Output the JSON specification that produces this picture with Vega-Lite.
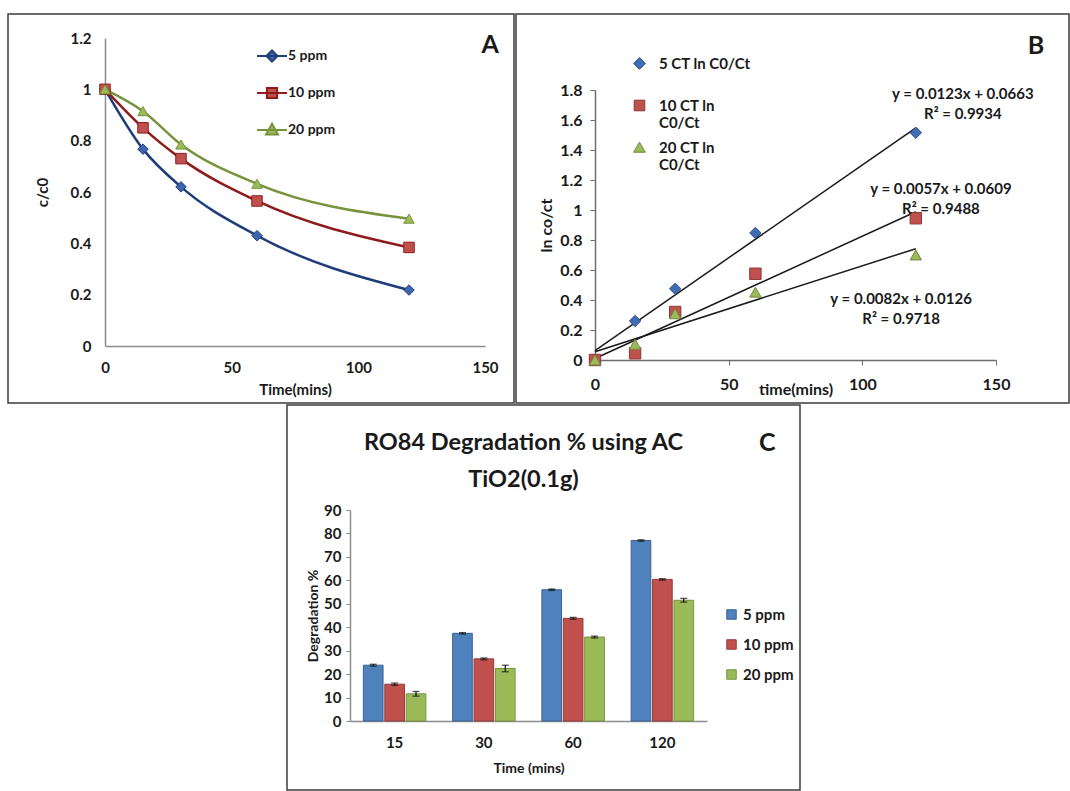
{
  "$schema": "https://vega.github.io/schema/vega-lite/v6.json",
  "padding": {"left": 7, "top": 13, "right": 0, "bottom": 0},
  "background": "white",
  "config": {
    "font": "Lato",
    "view": {"stroke": "#3d3d3d", "strokeWidth": 1.5},
    "axis": {"grid": false, "labelFont": "Lato", "titleFont": "Lato", "labelFontSize": 15, "titleFontSize": 15, "labelFontWeight": "bold", "titleFontWeight": "bold", "labelColor": "#1a1a1a", "titleColor": "#1a1a1a", "labelFlush": false, "labelOverlap": false, "domainColor": "#8c8c8c", "domainWidth": 1.5, "tickColor": "#8c8c8c"},
    "legend": {"labelFont": "Lato", "labelFontSize": 14, "labelFontWeight": "bold", "labelColor": "#1a1a1a", "padding": 0},
    "text": {"font": "Lato", "color": "#1a1a1a"},
    "title": {"font": "Lato", "color": "#1a1a1a"}
  },
  "datasets": {
    "A": [
      {"time": 0, "series": "5 ppm", "value": 1}, {"time": 15, "series": "5 ppm", "value": 0.767}, {"time": 30, "series": "5 ppm", "value": 0.62}, {"time": 60, "series": "5 ppm", "value": 0.43}, {"time": 120, "series": "5 ppm", "value": 0.218},
      {"time": 0, "series": "10 ppm", "value": 1}, {"time": 15, "series": "10 ppm", "value": 0.85}, {"time": 30, "series": "10 ppm", "value": 0.73}, {"time": 60, "series": "10 ppm", "value": 0.565}, {"time": 120, "series": "10 ppm", "value": 0.384},
      {"time": 0, "series": "20 ppm", "value": 1}, {"time": 15, "series": "20 ppm", "value": 0.915}, {"time": 30, "series": "20 ppm", "value": 0.785}, {"time": 60, "series": "20 ppm", "value": 0.632}, {"time": 120, "series": "20 ppm", "value": 0.496}
    ],
    "B": [
      {"time": 0, "series": "5 CT ln C0/Ct", "value": 0}, {"time": 15, "series": "5 CT ln C0/Ct", "value": 0.26}, {"time": 30, "series": "5 CT ln C0/Ct", "value": 0.475}, {"time": 60, "series": "5 CT ln C0/Ct", "value": 0.847}, {"time": 120, "series": "5 CT ln C0/Ct", "value": 1.515},
      {"time": 0, "series": "10 CT ln C0/Ct", "value": 0}, {"time": 15, "series": "10 CT ln C0/Ct", "value": 0.045}, {"time": 30, "series": "10 CT ln C0/Ct", "value": 0.32}, {"time": 60, "series": "10 CT ln C0/Ct", "value": 0.575}, {"time": 120, "series": "10 CT ln C0/Ct", "value": 0.945},
      {"time": 0, "series": "20 CT ln C0/Ct", "value": 0}, {"time": 15, "series": "20 CT ln C0/Ct", "value": 0.105}, {"time": 30, "series": "20 CT ln C0/Ct", "value": 0.308}, {"time": 60, "series": "20 CT ln C0/Ct", "value": 0.452}, {"time": 120, "series": "20 CT ln C0/Ct", "value": 0.7}
    ],
    "C": [
      {"time": "15", "series": "5 ppm", "value": 23.8, "lo": 23.4, "hi": 24.2},
      {"time": "15", "series": "10 ppm", "value": 15.7, "lo": 15.2, "hi": 16.2},
      {"time": "15", "series": "20 ppm", "value": 11.6, "lo": 10.6, "hi": 12.6},
      {"time": "30", "series": "5 ppm", "value": 37.4, "lo": 37.1, "hi": 37.7},
      {"time": "30", "series": "10 ppm", "value": 26.5, "lo": 26.1, "hi": 26.9},
      {"time": "30", "series": "20 ppm", "value": 22.4, "lo": 21.0, "hi": 23.8},
      {"time": "60", "series": "5 ppm", "value": 56.0, "lo": 55.7, "hi": 56.3},
      {"time": "60", "series": "10 ppm", "value": 43.8, "lo": 43.4, "hi": 44.2},
      {"time": "60", "series": "20 ppm", "value": 35.8, "lo": 35.4, "hi": 36.2},
      {"time": "120", "series": "5 ppm", "value": 77.0, "lo": 76.7, "hi": 77.3},
      {"time": "120", "series": "10 ppm", "value": 60.4, "lo": 60.1, "hi": 60.7},
      {"time": "120", "series": "20 ppm", "value": 51.5, "lo": 50.7, "hi": 52.3}
    ]
  },
  "spacing": 0,
  "resolve": {"scale": {"fill": "independent", "stroke": "independent", "shape": "independent"}, "legend": {"fill": "independent", "stroke": "independent", "shape": "independent"}},
  "vconcat": [
    {
      "spacing": 0,
      "resolve": {"scale": {"fill": "independent", "stroke": "independent", "shape": "independent"}, "legend": {"fill": "independent", "stroke": "independent", "shape": "independent"}},
      "hconcat": [
        {
          "width": 506, "height": 389,
          "data": {"name": "A"},
          "layer": [
            {
              "mark": {"type": "line", "interpolate": "monotone", "strokeWidth": 2.5},
              "encoding": {
                "x": {"field": "time", "type": "quantitative",
                  "scale": {"domain": [0, 150], "range": [97, 477], "nice": false, "zero": false},
                  "axis": {"values": [0, 50, 100, 150], "offset": -57, "ticks": false, "labelPadding": 14, "title": "Time(mins)", "titleY": 43, "titleBaseline": "middle", "format": "~f"}},
                "y": {"field": "value", "type": "quantitative",
                  "scale": {"domain": [0, 1.2], "range": [332, 24], "nice": false, "zero": false},
                  "axis": {"values": [0, 0.2, 0.4, 0.6, 0.8, 1, 1.2], "offset": -97, "ticks": false, "labelPadding": 14, "title": "c/c0", "titlePadding": 20, "format": "~f"}},
                "stroke": {"field": "series", "type": "nominal", "scale": {"domain": ["5 ppm", "10 ppm", "20 ppm"], "range": ["#1F3D7A", "#8E1C1C", "#77933C"]}, "legend": null}
              }
            },
            {
              "mark": {"type": "point", "filled": true, "size": 110, "strokeWidth": 1, "opacity": 1},
              "encoding": {
                "x": {"field": "time", "type": "quantitative"},
                "y": {"field": "value", "type": "quantitative"},
                "fill": {"field": "series", "type": "nominal", "scale": {"domain": ["5 ppm", "10 ppm", "20 ppm"], "range": ["#3C67B0", "#C0504D", "#9BBB59"]}, "legend": null},
                "stroke": {"field": "series", "type": "nominal", "scale": {"domain": ["5 ppm", "10 ppm", "20 ppm"], "range": ["#1F3D7A", "#8E1C1C", "#77933C"]}, "legend": null},
                "shape": {"field": "series", "type": "nominal", "scale": {"domain": ["5 ppm", "10 ppm", "20 ppm"], "range": ["diamond", "square", "triangle-up"]}, "legend": null}
              }
            },
            {
              "mark": {"type": "point", "filled": true, "opacity": 0},
              "encoding": {
                "x": {"field": "time", "type": "quantitative"},
                "y": {"field": "value", "type": "quantitative"},
                "fill": {"field": "series", "type": "nominal", "scale": {"domain": ["5 ppm", "10 ppm", "20 ppm"], "range": ["#3C67B0", "#C0504D", "#9BBB59"]},
                  "legend": {"orient": "none", "legendX": 248, "legendY": 26, "title": null, "symbolSize": 900, "symbolStrokeWidth": 2, "symbolFillColor": "#3C67B0", "symbolOpacity": 1, "rowPadding": 11, "labelOffset": 0}},
                "stroke": {"field": "series", "type": "nominal", "scale": {"domain": ["5 ppm", "10 ppm", "20 ppm"], "range": ["#1F3D7A", "#8E1C1C", "#77933C"]},
                  "legend": {"orient": "none", "legendX": 248, "legendY": 26, "title": null, "symbolSize": 900, "symbolStrokeWidth": 2, "symbolFillColor": "#3C67B0", "symbolOpacity": 1, "rowPadding": 11, "labelOffset": 0}},
                "shape": {"field": "series", "type": "nominal", "scale": {"domain": ["5 ppm", "10 ppm", "20 ppm"], "range": ["M-1,0H1M0,-0.37L0.37,0L0,0.37L-0.37,0Z", "M-1,0H1M-0.34,-0.34H0.34V0.34H-0.34Z", "M-1,0H1M0,-0.42L0.4,0.3H-0.4Z"]},
                  "legend": {"orient": "none", "legendX": 248, "legendY": 26, "title": null, "symbolSize": 900, "symbolStrokeWidth": 2, "symbolFillColor": "#3C67B0", "symbolOpacity": 1, "rowPadding": 11, "labelOffset": 0}}
              }
            },
            {
              "data": {"values": [{}]},
              "mark": {"type": "text", "text": "A", "fontSize": 25, "fontWeight": "bold", "align": "center", "baseline": "middle"},
              "encoding": {"x": {"datum": 152}, "y": {"datum": 1.173}}
            }
          ],
          "resolve": {"scale": {"fill": "independent", "stroke": "independent", "shape": "independent"}}
        },
        {
          "width": 553, "height": 389,
          "layer": [
            {
              "data": {"name": "B"},
              "transform": [{"regression": "value", "on": "time", "groupby": ["series"], "extent": [0, 120]}],
              "mark": {"type": "line", "color": "#1a1a1a", "strokeWidth": 1.5},
              "encoding": {
                "x": {"field": "time", "type": "quantitative",
                  "scale": {"domain": [0, 150], "range": [79, 480], "nice": false, "zero": false},
                  "axis": {"values": [0, 50, 100, 150], "offset": -43, "ticks": true, "tickSize": 5, "domainColor": "#6e6e6e", "tickColor": "#6e6e6e", "labelPadding": 11, "labelFontSize": 16, "titleFontSize": 16, "title": "time(mins)", "titleY": 29, "titleBaseline": "middle", "format": "~f"}},
                "y": {"field": "value", "type": "quantitative",
                  "scale": {"domain": [0, 1.8], "range": [346, 76], "nice": false, "zero": false},
                  "axis": {"values": [0, 0.2, 0.4, 0.6, 0.8, 1, 1.2, 1.4, 1.6, 1.8], "offset": -79, "ticks": true, "tickSize": 5, "domainColor": "#6e6e6e", "tickColor": "#6e6e6e", "labelPadding": 8, "labelFontSize": 16, "titleFontSize": 16, "title": "ln co/ct", "titlePadding": 5, "format": "~f"}},
                "detail": {"field": "series", "type": "nominal"}
              }
            },
            {
              "data": {"name": "B"},
              "mark": {"type": "point", "filled": true, "size": 130, "strokeWidth": 1, "opacity": 1},
              "encoding": {
                "x": {"field": "time", "type": "quantitative"},
                "y": {"field": "value", "type": "quantitative"},
                "fill": {"field": "series", "type": "nominal", "scale": {"domain": ["5 CT ln C0/Ct", "10 CT ln C0/Ct", "20 CT ln C0/Ct"], "range": ["#3F6EB6", "#C0504D", "#9BBB59"]}, "legend": null},
                "stroke": {"field": "series", "type": "nominal", "scale": {"domain": ["5 CT ln C0/Ct", "10 CT ln C0/Ct", "20 CT ln C0/Ct"], "range": ["#2B4E86", "#8C3836", "#71893F"]}, "legend": null},
                "shape": {"field": "series", "type": "nominal", "scale": {"domain": ["5 CT ln C0/Ct", "10 CT ln C0/Ct", "20 CT ln C0/Ct"], "range": ["diamond", "square", "triangle-up"]}, "legend": null}
              }
            },
            {
              "data": {"name": "B"},
              "mark": {"type": "point", "filled": true, "opacity": 0},
              "encoding": {
                "x": {"field": "time", "type": "quantitative"},
                "y": {"field": "value", "type": "quantitative"},
                "fill": {"field": "series", "type": "nominal", "scale": {"domain": ["5 CT ln C0/Ct", "10 CT ln C0/Ct", "20 CT ln C0/Ct"], "range": ["#3F6EB6", "#C0504D", "#9BBB59"]},
                  "legend": {"orient": "none", "legendX": 116, "legendY": 35, "title": null, "symbolSize": 125, "symbolStrokeWidth": 1, "symbolFillColor": "#3F6EB6", "symbolOpacity": 1, "labelFontSize": 15, "labelOffset": 12, "labelBaseline": "top", "gridAlign": "all", "rowPadding": 2, "labelExpr": "length(datum.label) > 13 ? [slice(datum.label, 0, 8), slice(datum.label, 9)] : datum.label"}},
                "stroke": {"field": "series", "type": "nominal", "scale": {"domain": ["5 CT ln C0/Ct", "10 CT ln C0/Ct", "20 CT ln C0/Ct"], "range": ["#2B4E86", "#8C3836", "#71893F"]},
                  "legend": {"orient": "none", "legendX": 116, "legendY": 35, "title": null, "symbolSize": 125, "symbolStrokeWidth": 1, "symbolFillColor": "#3F6EB6", "symbolOpacity": 1, "labelFontSize": 15, "labelOffset": 12, "labelBaseline": "top", "gridAlign": "all", "rowPadding": 2, "labelExpr": "length(datum.label) > 13 ? [slice(datum.label, 0, 8), slice(datum.label, 9)] : datum.label"}},
                "shape": {"field": "series", "type": "nominal", "scale": {"domain": ["5 CT ln C0/Ct", "10 CT ln C0/Ct", "20 CT ln C0/Ct"], "range": ["M0,0.2L1.05,1.25L0,2.3L-1.05,1.25Z", "M-0.95,0.3H0.95V2.2H-0.95Z", "M0,0.3L1.05,2.1H-1.05Z"]},
                  "legend": {"orient": "none", "legendX": 116, "legendY": 35, "title": null, "symbolSize": 125, "symbolStrokeWidth": 1, "symbolFillColor": "#3F6EB6", "symbolOpacity": 1, "labelFontSize": 15, "labelOffset": 12, "labelBaseline": "top", "gridAlign": "all", "rowPadding": 2, "labelExpr": "length(datum.label) > 13 ? [slice(datum.label, 0, 8), slice(datum.label, 9)] : datum.label"}}
              }
            },
            {
              "data": {"values": [{}]},
              "mark": {"type": "text", "text": ["y = 0.0123x + 0.0663", "R² = 0.9934"], "fontSize": 15, "fontWeight": "bold", "lineHeight": 20, "align": "center", "baseline": "middle"},
              "encoding": {"x": {"datum": 137.6}, "y": {"datum": 1.773}}
            },
            {
              "data": {"values": [{}]},
              "mark": {"type": "text", "text": ["y = 0.0057x + 0.0609", "R² = 0.9488"], "fontSize": 15, "fontWeight": "bold", "lineHeight": 20, "align": "center", "baseline": "middle"},
              "encoding": {"x": {"datum": 129.4}, "y": {"datum": 1.14}}
            },
            {
              "data": {"values": [{}]},
              "mark": {"type": "text", "text": ["y = 0.0082x + 0.0126", "R² = 0.9718"], "fontSize": 15, "fontWeight": "bold", "lineHeight": 20, "align": "center", "baseline": "middle"},
              "encoding": {"x": {"datum": 114.5}, "y": {"datum": 0.41}}
            },
            {
              "data": {"values": [{}]},
              "mark": {"type": "text", "text": "B", "fontSize": 25, "fontWeight": "bold", "align": "center", "baseline": "middle"},
              "encoding": {"x": {"datum": 165}, "y": {"datum": 2.093}}
            }
          ],
          "resolve": {"scale": {"fill": "independent", "stroke": "independent", "shape": "independent"}}
        }
      ]
    },
    {
      "spacing": 0,
      "resolve": {"scale": {"fill": "independent", "stroke": "independent", "shape": "independent"}, "legend": {"fill": "independent", "stroke": "independent", "shape": "independent"}},
      "hconcat": [
        {
          "width": 278, "height": 10,
          "data": {"values": []},
          "mark": "point",
          "view": {"stroke": null}
        },
        {
          "width": 513, "height": 385,
          "data": {"name": "C"},
          "title": {"text": ["RO84 Degradation % using AC", "TiO2(0.1g)"], "fontSize": 23.5, "fontWeight": "bold", "lineHeight": 37, "anchor": "middle", "frame": "group", "dx": -20, "offset": -86},
          "layer": [
            {
              "mark": {"type": "bar", "strokeWidth": 1},
              "encoding": {
                "x": {"field": "time", "type": "ordinal", "sort": ["15", "30", "60", "120"],
                  "scale": {"domain": ["15", "30", "60", "120"], "range": [63, 420], "paddingInner": 0.3, "paddingOuter": 0.15},
                  "axis": {"offset": -69, "ticks": false, "labelAngle": 0, "labelPadding": 14, "labelFontSize": 15, "titleFontSize": 14, "title": "Time (mins)", "titleY": 47, "titleBaseline": "middle"}},
                "xOffset": {"field": "series", "type": "nominal", "scale": {"domain": ["5 ppm", "10 ppm", "20 ppm"], "paddingInner": 0.08}},
                "y": {"field": "value", "type": "quantitative",
                  "scale": {"domain": [0, 90], "range": [316, 105], "nice": false, "zero": false},
                  "axis": {"values": [0, 10, 20, 30, 40, 50, 60, 70, 80, 90], "offset": -63, "ticks": true, "tickSize": 4, "labelPadding": 5, "labelFontSize": 15, "titleFontSize": 14, "title": "Degradation %", "titlePadding": 3, "format": "d"}},
                "fill": {"field": "series", "type": "nominal", "scale": {"domain": ["5 ppm", "10 ppm", "20 ppm"], "range": ["#4F81BD", "#C0504D", "#9BBB59"]},
                  "legend": {"orient": "none", "legendX": 437, "legendY": 202, "title": null, "symbolType": "square", "symbolSize": 90, "symbolStrokeWidth": 1, "labelFontSize": 15, "labelOffset": 4, "rowPadding": 14}},
                "stroke": {"field": "series", "type": "nominal", "scale": {"domain": ["5 ppm", "10 ppm", "20 ppm"], "range": ["#3B6494", "#963C3A", "#76923C"]},
                  "legend": {"orient": "none", "legendX": 437, "legendY": 202, "title": null, "symbolType": "square", "symbolSize": 90, "symbolStrokeWidth": 1, "labelFontSize": 15, "labelOffset": 4, "rowPadding": 14}}
              }
            },
            {
              "mark": {"type": "rule", "color": "#111111", "strokeWidth": 1.2},
              "encoding": {
                "x": {"field": "time", "type": "ordinal", "sort": ["15", "30", "60", "120"]},
                "xOffset": {"field": "series", "type": "nominal"},
                "y": {"field": "lo", "type": "quantitative"},
                "y2": {"field": "hi"}
              }
            },
            {
              "mark": {"type": "tick", "color": "#111111", "size": 7, "thickness": 1.3},
              "encoding": {
                "x": {"field": "time", "type": "ordinal", "sort": ["15", "30", "60", "120"]},
                "xOffset": {"field": "series", "type": "nominal"},
                "y": {"field": "lo", "type": "quantitative"}
              }
            },
            {
              "mark": {"type": "tick", "color": "#111111", "size": 7, "thickness": 1.3},
              "encoding": {
                "x": {"field": "time", "type": "ordinal", "sort": ["15", "30", "60", "120"]},
                "xOffset": {"field": "series", "type": "nominal"},
                "y": {"field": "hi", "type": "quantitative"}
              }
            },
            {
              "data": {"values": [{}]},
              "mark": {"type": "text", "text": "C", "fontSize": 25, "fontWeight": "bold", "align": "center", "baseline": "middle", "dx": 105},
              "encoding": {"x": {"datum": "120"}, "y": {"datum": 118.6}}
            }
          ]
        }
      ]
    }
  ]
}
